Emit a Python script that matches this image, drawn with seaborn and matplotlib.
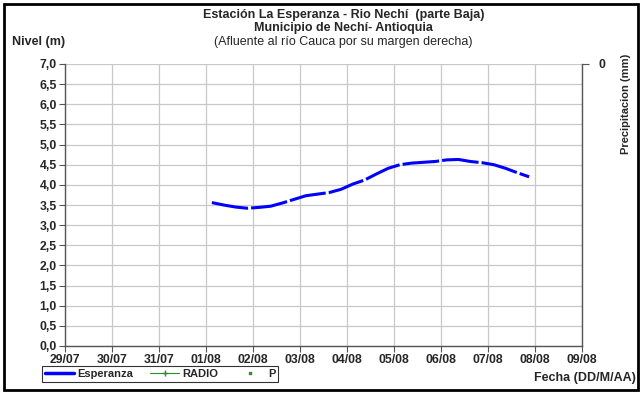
import matplotlib
matplotlib.use("Agg")
import matplotlib.pyplot as plt
from matplotlib.patches import Rectangle
from matplotlib.lines import Line2D
import pandas as pd
import seaborn as sns

# level readings, station La Esperanza (every 6 h)
fechas = ["01/08 03:00", "01/08 09:00", "01/08 15:00", "01/08 21:00",
          "02/08 03:00", "02/08 09:00", "02/08 15:00", "02/08 21:00",
          "03/08 03:00", "03/08 09:00", "03/08 15:00", "03/08 21:00",
          "04/08 03:00", "04/08 09:00", "04/08 15:00", "04/08 21:00",
          "05/08 03:00", "05/08 09:00", "05/08 15:00", "05/08 21:00",
          "06/08 03:00", "06/08 09:00", "06/08 15:00", "06/08 21:00",
          "07/08 03:00", "07/08 09:00", "07/08 15:00", "07/08 21:00"]
nivel = [3.56, 3.50, 3.45, 3.42,
         3.44, 3.47, 3.55, 3.64,
         3.73, 3.77, 3.81, 3.89,
         4.02, 4.12, 4.27, 4.41,
         4.50, 4.54, 4.56, 4.58,
         4.62, 4.63, 4.58, 4.55,
         4.50, 4.41, 4.30, 4.20]

eje_x = ["29/07", "30/07", "31/07", "01/08", "02/08", "03/08",
         "04/08", "05/08", "06/08", "07/08", "08/08", "09/08"]
eje_y = [0.0, 0.5, 1.0, 1.5, 2.0, 2.5, 3.0, 3.5, 4.0, 4.5, 5.0, 5.5, 6.0, 6.5, 7.0]

anio = "2011"
df = pd.DataFrame({
    "fecha": pd.to_datetime([f.split()[0] + "/" + anio + " " + f.split()[1] for f in fechas],
                            format="%d/%m/%Y %H:%M"),
    "nivel": nivel,
})
dias = pd.to_datetime([d + "/" + anio for d in eje_x], format="%d/%m/%Y")

sns.set_style("whitegrid")
plt.rcParams["font.family"] = ["Liberation Sans", "DejaVu Sans"]

fig = plt.figure(figsize=(6.42, 3.94), dpi=100)
ax = fig.add_axes([65 / 642, 1 - 346 / 394, (582 - 65) / 642, (346 - 64) / 394])

sns.lineplot(data=df, x="fecha", y="nivel", ax=ax, color="#0000ff",
             linewidth=2.2, legend=False)
ax.lines[0].set_dashes([12, 1])

fs = 8.8
ax.set_xlim(dias[0], dias[-1])
ax.set_ylim(0, 7)
ax.set_xticks(dias)
ax.set_xticklabels(eje_x, fontsize=fs, fontweight="bold")
ax.set_yticks(eje_y)
ax.set_yticklabels([f"{v:.1f}".replace(".", ",") for v in eje_y],
                   fontsize=fs, fontweight="bold")
ax.set_xlabel("")
ax.set_ylabel("")
ax.grid(True, color="#c8c8c8", linewidth=0.9)
ax.tick_params(axis="both", length=4, width=0.8, color="#555555", pad=2,
               left=True, bottom=True)
for s in ["left", "bottom"]:
    ax.spines[s].set_color("#555555")
    ax.spines[s].set_linewidth(1.0)
ax.spines["top"].set_visible(False)
ax.spines["right"].set_visible(False)

# precipitation axis (inverted, only 0 at top)
ax2 = ax.twinx()
ax2.set_ylim(10, 0)
ax2.set_yticks([0])
ax2.set_yticklabels(["0"], fontsize=fs, fontweight="bold")
ax2.grid(False)
ax2.tick_params(axis="y", length=5, width=0.8, color="#555555", pad=7, right=True)
for s in ["left", "bottom", "top"]:
    ax2.spines[s].set_visible(False)
ax2.spines["right"].set_color("#555555")
ax2.spines["right"].set_linewidth(1.0)
fig.text(626 / 642, 1 - 104 / 394, "Precipitacion (mm)", rotation=90,
         ha="center", va="center", fontsize=8, fontweight="bold")

tx = 0.535
fig.text(tx, 1 - 15 / 394, "Estación La Esperanza - Rio Nechí  (parte Baja)",
         ha="center", va="center", fontsize=9, fontweight="bold")
fig.text(tx, 1 - 28 / 394, "Municipio de Nechí- Antioquia",
         ha="center", va="center", fontsize=9, fontweight="bold")
fig.text(tx, 1 - 42 / 394, "(Afluente al río Cauca por su margen derecha)",
         ha="center", va="center", fontsize=9)
fig.text(12 / 642, 1 - 42 / 394, "Nivel (m)", ha="left", va="center",
         fontsize=9, fontweight="bold")
fig.text(636 / 642, 1 - 378 / 394, "Fecha (DD/M/AA)", ha="right", va="center",
         fontsize=9, fontweight="bold")

handles = [
    Line2D([], [], color="#0000ff", linewidth=2.5),
    Line2D([], [], color="#2e8b2e", linewidth=0.8, marker="+", markersize=4),
    Line2D([], [], color="#2e8b2e", linestyle="none", marker="s", markersize=1.8),
]
leg = fig.legend(handles, ["Esperanza", "RADIO", "P"], ncol=3,
                 loc="lower left", mode="expand",
                 bbox_to_anchor=(42 / 642, 1 - 382 / 394, 236 / 642, 15 / 394),
                 prop={"size": 8, "weight": "bold"}, frameon=True, fancybox=False,
                 handlelength=2.6, handletextpad=0.3, columnspacing=0.6,
                 borderpad=0.25, borderaxespad=0)
leg.get_frame().set_edgecolor("black")
leg.get_frame().set_linewidth(0.8)

fig.patches.append(Rectangle((4 / 642, 4 / 394), 634 / 642, 386 / 394,
                             transform=fig.transFigure, fill=False,
                             edgecolor="black", linewidth=2))

fig.savefig("out.png", dpi=100)
